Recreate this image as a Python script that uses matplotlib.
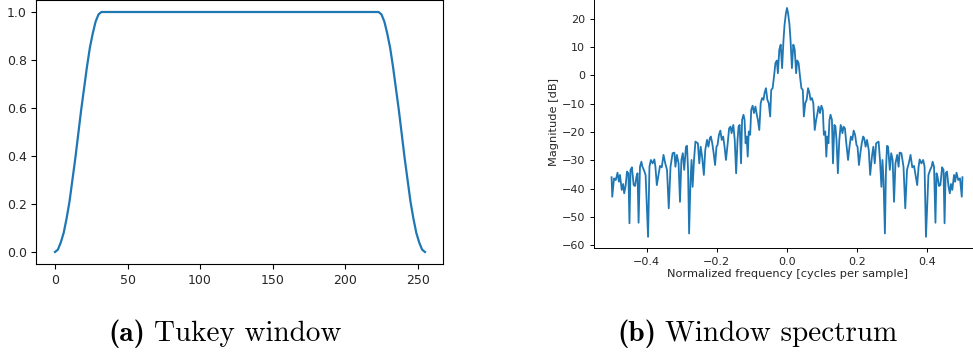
import matplotlib
matplotlib.use("Agg")
import matplotlib.pyplot as plt

# (a) Tukey window
win_n = [0, 2, 4, 6, 8, 10, 12, 14, 16, 18, 20, 22, 24, 26, 28, 30, 32,
         223, 225, 227, 229, 231, 233, 235, 237, 239, 241, 243, 245, 247, 249, 251, 253, 255]
win_w = [0.00, 0.01, 0.04, 0.08, 0.14, 0.21, 0.30, 0.39, 0.49, 0.59, 0.68, 0.77, 0.85, 0.91, 0.96, 0.99, 1.00,
         1.00, 0.99, 0.96, 0.91, 0.85, 0.77, 0.68, 0.59, 0.49, 0.39, 0.30, 0.21, 0.14, 0.08, 0.04, 0.01, 0.00]

# (b) window spectrum, negative frequencies (left half)
freq_neg = [-0.500, -0.498, -0.493, -0.488, -0.483, -0.479, -0.476, -0.471, -0.467, -0.464,
            -0.460, -0.456, -0.452, -0.449, -0.446, -0.442, -0.437, -0.433, -0.429, -0.426,
            -0.423, -0.419, -0.415, -0.412, -0.408, -0.403, -0.396, -0.392, -0.388, -0.383,
            -0.378, -0.375, -0.371, -0.367, -0.362, -0.357, -0.352, -0.347, -0.342, -0.337,
            -0.332, -0.326, -0.321, -0.318, -0.314, -0.309, -0.305, -0.301, -0.297, -0.293,
            -0.288, -0.285, -0.282, -0.279, -0.275, -0.272, -0.269, -0.265, -0.261,
            -0.254, -0.250, -0.246, -0.242, -0.237, -0.233, -0.228, -0.224, -0.220, -0.217,
            -0.213, -0.209, -0.205, -0.201, -0.198, -0.194, -0.190, -0.186, -0.182, -0.178,
            -0.174, -0.169, -0.165, -0.161, -0.158, -0.153, -0.149, -0.145, -0.141, -0.138,
            -0.135, -0.131, -0.128, -0.124, -0.121, -0.118, -0.115, -0.112, -0.109, -0.105,
            -0.102, -0.098, -0.094, -0.090, -0.086, -0.083, -0.079, -0.075, -0.071, -0.067,
            -0.064, -0.060, -0.056, -0.052, -0.048, -0.045, -0.041, -0.037, -0.033, -0.029,
            -0.026, -0.022, -0.018, -0.014, -0.010, -0.007, -0.003]
mag_neg = [-36.0, -42.9, -36.4, -37.0, -34.4, -37.6, -35.2, -40.5, -38.4, -41.7,
           -39.1, -34.0, -34.6, -52.3, -33.4, -32.5, -38.8, -39.1, -35.8, -34.6,
           -52.1, -32.3, -30.5, -32.3, -33.4, -35.2, -57.1, -32.3, -29.9, -31.1,
           -29.7, -32.3, -38.8, -35.8, -32.0, -32.5, -28.1, -31.1, -33.4, -47.0,
           -32.3, -27.5, -27.3, -32.3, -28.1, -31.1, -44.7, -29.9, -27.5, -33.4,
           -25.2, -24.9, -33.4, -55.9, -37.0, -29.9, -39.4, -29.9, -23.4,
           -24.0, -31.1, -25.2, -28.7, -35.2, -26.4, -22.8, -25.2, -22.2, -21.6,
           -24.0, -27.5, -31.7, -25.2, -24.6, -21.0, -19.5, -22.8, -21.6, -25.2,
           -29.9, -24.0, -18.7, -18.1, -20.4, -17.5, -22.8, -34.6, -22.8, -18.1,
           -17.5, -31.1, -15.7, -13.9, -15.7, -24.0, -21.6, -28.7, -19.8, -21.0,
           -12.2, -10.7, -13.3, -11.0, -13.9, -15.7, -19.3, -9.8, -8.0, -8.6,
           -6.2, -4.5, -8.6, -9.8, -14.5, -5.1, -4.5, -0.3, 4.4, 5.3,
           0.8, 9.1, 10.9, 2.6, 12.6, 18.0, 22.1]

freq_peak = [0.0]
mag_peak = [23.9]

# positive frequencies (right half)
freq_pos = [0.003, 0.007, 0.010, 0.014, 0.018, 0.022, 0.026, 0.029, 0.033, 0.037,
            0.041, 0.045, 0.048, 0.052, 0.056, 0.060, 0.064, 0.067, 0.071, 0.075,
            0.079, 0.083, 0.086, 0.090, 0.094, 0.098, 0.102, 0.105, 0.109, 0.112,
            0.115, 0.118, 0.121, 0.124, 0.128, 0.131, 0.135, 0.138, 0.141, 0.145,
            0.149, 0.153, 0.158, 0.161, 0.165, 0.169, 0.174, 0.178, 0.182, 0.186,
            0.190, 0.194, 0.198, 0.201, 0.205, 0.209, 0.213, 0.217, 0.220, 0.224,
            0.228, 0.233, 0.237, 0.242, 0.246, 0.250, 0.254,
            0.261, 0.265, 0.269, 0.272, 0.275, 0.279, 0.282, 0.285, 0.288, 0.293,
            0.297, 0.301, 0.305, 0.309, 0.314, 0.318, 0.321, 0.326, 0.332, 0.337,
            0.342, 0.347, 0.352, 0.357, 0.362, 0.367, 0.371, 0.375, 0.378, 0.383,
            0.388, 0.392, 0.396, 0.403, 0.408, 0.412, 0.415, 0.419, 0.423, 0.426,
            0.429, 0.433, 0.437, 0.442, 0.446, 0.449, 0.452, 0.456, 0.460, 0.464,
            0.467, 0.471, 0.476, 0.479, 0.483, 0.488, 0.493, 0.498, 0.500]
mag_pos = [22.1, 18.0, 12.6, 2.6, 10.9, 9.1, 0.8, 5.3, 4.4, -0.3,
           -4.5, -5.1, -14.5, -9.8, -8.6, -4.5, -6.2, -8.6, -8.0, -9.8,
           -19.3, -15.7, -13.9, -11.0, -13.3, -10.7, -12.2, -21.0, -19.8, -28.7,
           -21.6, -24.0, -15.7, -13.9, -15.7, -31.1, -17.5, -18.1, -22.8, -34.6,
           -22.8, -17.5, -20.4, -18.1, -18.7, -24.0, -29.9, -25.2, -21.6, -22.8,
           -19.5, -21.0, -24.6, -25.2, -31.7, -27.5, -24.0, -21.6, -22.2, -25.2,
           -22.8, -26.4, -35.2, -28.7, -25.2, -31.1, -24.0,
           -23.4, -29.9, -39.4, -29.9, -37.0, -55.9, -33.4, -24.9, -25.2, -33.4,
           -27.5, -29.9, -44.7, -31.1, -28.1, -32.3, -27.3, -27.5, -32.3, -47.0,
           -33.4, -31.1, -28.1, -32.5, -32.0, -35.8, -38.8, -32.3, -29.7, -31.1,
           -29.9, -32.3, -57.1, -35.2, -33.4, -32.3, -30.5, -32.3, -52.1, -34.6,
           -35.8, -39.1, -38.8, -32.5, -33.4, -52.3, -34.6, -34.0, -39.1, -41.7,
           -38.4, -40.5, -35.2, -37.6, -34.4, -37.0, -36.4, -42.9, -36.0]

freqs = freq_neg + freq_peak + freq_pos
mags = mag_neg + mag_peak + mag_pos

captions = [('(a)', 'Tukey window'), ('(b)', 'Window spectrum')]

fig = plt.figure(figsize=(9.73, 3.54), dpi=100)

# left panel
ax1 = fig.add_axes([0.0375, 0.2542, 0.4183, 0.7458])
ax1.plot(win_n, win_w, color='#1f77b4', lw=1.6)
ax1.set_xticks([0, 50, 100, 150, 200, 250])
ax1.set_yticks([0.0, 0.2, 0.4, 0.6, 0.8, 1.0])
ax1.tick_params(labelsize=9, length=3.5, width=0.8, colors='#262626')
ax1.tick_params(color='black')

# right panel (cropped at the top and right like the original)
ax2 = fig.add_axes([0.6105, 0.2986, 0.3967, 0.7113])
ax2.plot(freqs, mags, color='#1f77b4', lw=1.3)
ax2.set_xticks([-0.4, -0.2, 0.0, 0.2, 0.4])
ax2.set_yticks([-60, -50, -40, -30, -20, -10, 0, 10, 20])
ax2.tick_params(labelsize=8, length=3, width=0.7, colors='#262626')
ax2.tick_params(color='black')
ax2.set_xlabel('Normalized frequency [cycles per sample]', fontsize=8.2, labelpad=1,
               color='#262626')
ax2.set_ylabel('Magnitude [dB]', fontsize=8.2, labelpad=2, color='#262626')
for s in ax2.spines.values():
    s.set_linewidth(0.7)

# captions: bold label in cmb10, text in cmr10, centred under each panel
renderer = fig.canvas.get_renderer()
gap = 9
for (tag, words), xc in zip(captions, [225, 757]):
    t1 = fig.text(0, 13 / 354, tag, family='cmb10', fontsize=21, va='baseline')
    t2 = fig.text(0, 13 / 354, words, family='cmr10', fontsize=21, va='baseline')
    w1 = t1.get_window_extent(renderer).width
    w2 = t2.get_window_extent(renderer).width
    x0 = xc - (w1 + w2 + gap) / 2
    t1.set_x(x0 / 973)
    t2.set_x((x0 + w1 + gap) / 973)

fig.savefig('out.png', dpi=100)
